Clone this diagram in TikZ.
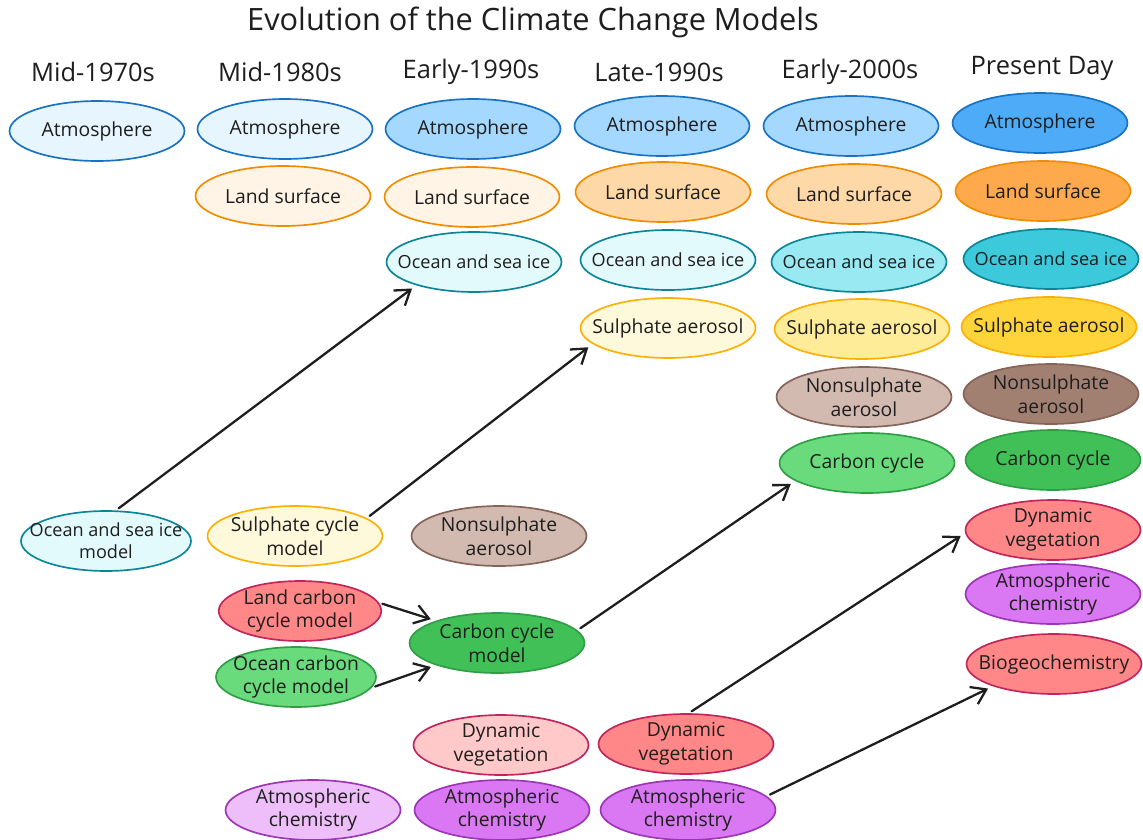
\documentclass[tikz,border=0pt]{standalone}
\usepackage{fontspec}
\setmainfont{Open Sans}
\usetikzlibrary{shapes.geometric,arrows.meta}
\definecolor{ink}{HTML}{1E1E1E}
\definecolor{atmA}{HTML}{E7F5FF}\definecolor{atmB}{HTML}{A5D8FF}\definecolor{atmC}{HTML}{4DABF7}\definecolor{atmL}{HTML}{1971C2}
\definecolor{lndA}{HTML}{FFF4E6}\definecolor{lndB}{HTML}{FFD8A8}\definecolor{lndC}{HTML}{FFA94D}\definecolor{lndL}{HTML}{F08C00}
\definecolor{ocnA}{HTML}{E3FAFC}\definecolor{ocnB}{HTML}{99E9F2}\definecolor{ocnC}{HTML}{3BC9DB}\definecolor{ocnL}{HTML}{0C8599}
\definecolor{sulA}{HTML}{FFF9DB}\definecolor{sulB}{HTML}{FFEC99}\definecolor{sulC}{HTML}{FFD43B}\definecolor{sulL}{HTML}{FAB005}
\definecolor{nsuB}{HTML}{D2BAB0}\definecolor{nsuC}{HTML}{A18072}\definecolor{nsuL}{HTML}{846358}
\definecolor{carB}{HTML}{69DB7C}\definecolor{carC}{HTML}{40C057}\definecolor{carL}{HTML}{2F9E44}
\definecolor{vegA}{HTML}{FFC9C9}\definecolor{vegB}{HTML}{FF8787}\definecolor{vegL}{HTML}{C2255C}
\definecolor{chmA}{HTML}{EEBEFA}\definecolor{chmB}{HTML}{DA77F2}\definecolor{chmL}{HTML}{9C36B5}
\begin{document}
\begin{tikzpicture}[x=.02cm,y=-.02cm,line cap=round,
 bub/.style={ellipse,draw,line width=.95pt,minimum width=3.5cm,minimum height=1.2cm,inner sep=-1cm,align=center,text=ink,font=\fontsize{11}{13.5}\selectfont},
 small/.style={font=\fontsize{10.3}{12.5}\selectfont},
 era/.style={text=ink,font=\fontsize{14.5}{16}\selectfont},
 arr/.style={-{Straight Barb[length=2.8mm,width=3.8mm,line width=1.3pt]},draw=ink,line width=1.3pt,shorten <=2pt,shorten >=3pt}]
\useasboundingbox (0,0) rectangle (1143,839);
\node[text=ink,font=\fontsize{17.5}{20}\selectfont] (title) at (533,22) {Evolution of the Climate Change Models};
\foreach \n/\x/\t in {e70/93/Mid-1970s,e80/280/Mid-1980s,e90/471/Early-1990s,l90/659/Late-1990s,e00/850/Early-2000s}
 \node[era] (\n) at (\x,72) {\t};
\node[era] (now) at (1042,68) {Present Day};
% components, one ellipse each: name/x/y/fill/line/text
\foreach \n/\x/\y/\f/\d/\t in {
 a1/97/131/atmA/atmL/Atmosphere, a2/285/129/atmA/atmL/Atmosphere, a3/473/129/atmB/atmL/Atmosphere,
 a4/662/126/atmB/atmL/Atmosphere, a5/851/126/atmB/atmL/Atmosphere, a6/1040/123/atmC/atmL/Atmosphere,
 l2/283/196/lndA/lndL/Land surface, l3/472/197/lndA/lndL/Land surface, l4/663/192/lndB/lndL/Land surface,
 l5/854/194/lndB/lndL/Land surface, l6/1043/191/lndC/lndL/Land surface,
 s4/668/328/sulA/sulL/Sulphate aerosol, s5/862/329/sulB/sulL/Sulphate aerosol, s6/1049/327/sulC/sulL/Sulphate aerosol,
 n3/499/536/nsuB/nsuL/{Nonsulphate\\aerosol}, n5/864/397/nsuB/nsuL/{Nonsulphate\\aerosol}, n6/1051/394/nsuC/nsuL/{Nonsulphate\\aerosol},
 c5/867/463/carB/carL/Carbon cycle, c6/1053/460/carC/carL/Carbon cycle,
 cm3/497/643/carC/carL/{Carbon cycle\\model}, sm2/295/536/sulA/sulL/{Sulphate cycle\\model},
 v3/501/745/vegA/vegL/{Dynamic\\vegetation}, v4/686/744/vegB/vegL/{Dynamic\\vegetation}, v6/1053/530/vegB/vegL/{Dynamic\\vegetation},
 h2/313/810/chmA/chmL/{Atmospheric\\chemistry}, h3/502/810/chmB/chmL/{Atmospheric\\chemistry},
 h4/688/810/chmB/chmL/{Atmospheric\\chemistry}, h6/1053/594/chmB/chmL/{Atmospheric\\chemistry},
 b6/1054/664/vegB/vegL/Biogeochemistry}
 \node[bub,fill=\f,draw=\d] (\n) at (\x,\y) {\t};
\foreach \n/\x/\y/\f in {o3/474/262/ocnA, o4/668/260/ocnA, o5/859/262/ocnB, o6/1051/259/ocnC}
 \node[bub,small,fill=\f,draw=ocnL] (\n) at (\x,\y) {Ocean and sea ice};
\node[bub,small,fill=ocnA,draw=ocnL,minimum width=3.4cm] (o1) at (106,541) {Ocean and sea ice\\model};
\node[bub,fill=vegB,draw=vegL,minimum width=3.25cm] (lc2) at (300,611) {Land carbon\\cycle model};
\node[bub,fill=carB,draw=carL,minimum width=3.2cm] (oc2) at (296,677) {Ocean carbon\\cycle model};
% what moved into the coupled model next
\draw[arr] (o1.72) -- (o3.202);
\draw[arr] (sm2.14) -- (s4.192);
\draw[arr] (lc2.6) -- (cm3.160);
\draw[arr] (oc2.-8) -- (cm3.200);
\draw[arr] (cm3.9) -- (c5.194);
\draw[arr] (v4.85) -- (v6.182);
\draw[arr] (h4.10) -- (b6.200);
\end{tikzpicture}
\end{document}
